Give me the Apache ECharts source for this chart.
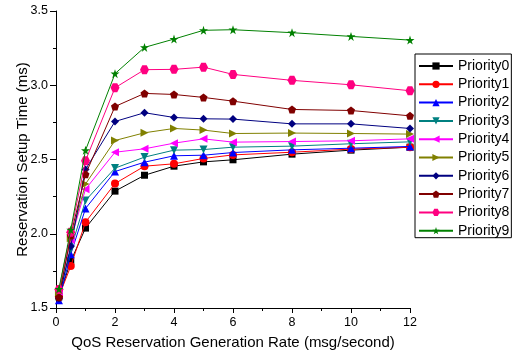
<!DOCTYPE html>
<html>
<head>
<meta charset="utf-8">
<script src="https://cdn.jsdelivr.net/npm/echarts@6/dist/echarts.min.js"></script>
<style>
  html, body { margin: 0; padding: 0; background: #fff; }
  #chart { width: 519px; height: 351px; }
</style>
</head>
<body>
<div id="chart"></div>
<script>
// rate values on the x axis (msg/second)
const rates = [0.1, 0.5, 1, 2, 3, 4, 5, 6, 8, 10, 12]

const names = ['Priority0', 'Priority1', 'Priority2', 'Priority3', 'Priority4',
  'Priority5', 'Priority6', 'Priority7', 'Priority8', 'Priority9']

// setup time (ms)
const p0 = [1.575, 1.815, 2.038, 2.287, 2.394, 2.455, 2.484, 2.498, 2.536, 2.563, 2.583]
const p1 = [1.578, 1.782, 2.078, 2.338, 2.455, 2.471, 2.507, 2.531, 2.549, 2.570, 2.583]
const p2 = [1.553, 1.862, 2.170, 2.419, 2.482, 2.525, 2.529, 2.547, 2.565, 2.576, 2.588]
const p3 = [1.585, 1.895, 2.224, 2.442, 2.516, 2.563, 2.567, 2.583, 2.590, 2.606, 2.619]
const p4 = [1.610, 1.960, 2.300, 2.549, 2.572, 2.610, 2.639, 2.617, 2.621, 2.626, 2.639]
const p5 = [1.600, 1.970, 2.335, 2.628, 2.680, 2.709, 2.698, 2.675, 2.678, 2.675, 2.671]
const p6 = [1.565, 1.916, 2.433, 2.756, 2.815, 2.783, 2.774, 2.772, 2.740, 2.740, 2.709]
const p7 = [1.573, 1.990, 2.400, 2.857, 2.945, 2.938, 2.918, 2.893, 2.837, 2.830, 2.794]
const p8 = [1.625, 2.010, 2.492, 2.983, 3.105, 3.107, 3.122, 3.073, 3.033, 3.003, 2.963]
const p9 = [1.628, 2.027, 2.562, 3.078, 3.255, 3.311, 3.370, 3.374, 3.354, 3.329, 3.304]
const values = [p0, p1, p2, p3, p4, p5, p6, p7, p8, p9]

const colors = ['#000000', '#ff0000', '#0000ff', '#008080', '#ff00ff',
  '#808000', '#000080', '#800000', '#ff0080', '#008000']

const symbols = [
  'rect',
  'circle',
  'triangle',
  'path://M0,0L10,0L5,9Z',
  'path://M0,5L9,0L9,10Z',
  'path://M0,0L9,5L0,10Z',
  'diamond',
  'path://M5,0L10,3.8L8.1,10L1.9,10L0,3.8Z',
  'path://M2.5,0L7.5,0L10,5L7.5,10L2.5,10L0,5Z',
  'path://M5,0L6.2,3.6L10,3.6L6.9,5.9L8.1,9.5L5,7.3L1.9,9.5L3.1,5.9L0,3.6L3.8,3.6Z',
]
const sizes = [7, 8, 8, 8, 8, 8, 8, 8, 9, 9]

const font = 'Liberation Sans, Arial, sans-serif'

const series = names.map((name, i) => ({
  name,
  type: 'line',
  data: rates.map((x, j) => [x, values[i][j]]),
  symbol: symbols[i],
  symbolSize: sizes[i],
  showAllSymbol: true,
  lineStyle: { color: colors[i], width: 1 },
  itemStyle: { color: colors[i] },
  z: 2 + i,
  animation: false,
}))

const chart = echarts.init(document.getElementById('chart'), null, { renderer: 'canvas' })
chart.setOption({
  animation: false,
  grid: { left: 56, right: 109, top: 11, bottom: 43, outerBoundsMode: 'none', containLabel: false },
  xAxis: {
    type: 'value',
    min: 0,
    max: 12,
    interval: 2,
    name: 'QoS Reservation Generation Rate (msg/second)',
    nameLocation: 'middle',
    nameGap: 27,
    nameMoveOverlap: false,
    nameTextStyle: { color: '#000', fontSize: 15, fontFamily: font },
    axisLine: { onZero: false, lineStyle: { color: '#000', width: 1 } },
    axisTick: { length: 5, lineStyle: { color: '#000' } },
    minorTick: { show: true, splitNumber: 2, length: 3, lineStyle: { color: '#000' } },
    axisLabel: { color: '#000', fontSize: 12.5, fontFamily: font, margin: 8 },
    splitLine: { show: false },
  },
  yAxis: {
    type: 'value',
    min: 1.5,
    max: 3.5,
    interval: 0.5,
    name: 'Reservation Setup Time (ms)',
    nameLocation: 'middle',
    nameGap: 26,
    nameMoveOverlap: false,
    nameTextStyle: { color: '#000', fontSize: 15, fontFamily: font },
    axisLine: { show: true, onZero: false, lineStyle: { color: '#000', width: 1 } },
    axisTick: { show: true, length: 6, lineStyle: { color: '#000' } },
    minorTick: { show: true, splitNumber: 2, length: 3, lineStyle: { color: '#000' } },
    axisLabel: {
      color: '#000', fontSize: 12.5, fontFamily: font, margin: 8,
      formatter: (v) => v.toFixed(1),
    },
    splitLine: { show: false },
  },
  legend: {
    orient: 'vertical',
    left: 415,
    top: 54,
    data: names,
    itemWidth: 34,
    itemHeight: 9,
    itemGap: 4.3,
    padding: [5, 2, 0, 3],
    borderColor: '#000',
    borderWidth: 1,
    backgroundColor: '#fff',
    textStyle: { color: '#000', fontSize: 14, fontFamily: font },
    z: 20,
  },
  series,
})
</script>
</body>
</html>
